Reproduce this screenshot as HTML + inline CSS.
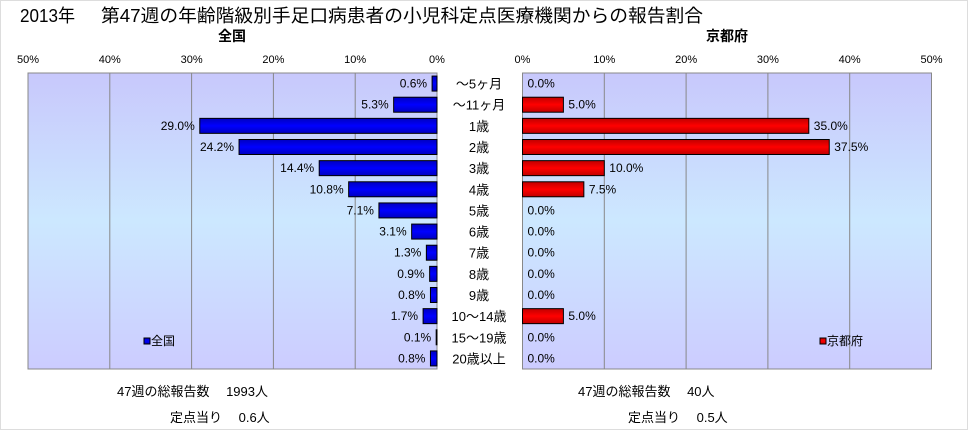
<!DOCTYPE html>
<html><head><meta charset="utf-8">
<style>
body{margin:0;background:#fff;}
svg{display:block;font-family:"Liberation Sans","Noto Sans CJK JP",sans-serif;}
</style></head>
<body>
<svg id="c" width="968" height="430" viewBox="0 0 968 430">
<defs>
<linearGradient id="bg" x1="0" y1="0" x2="0" y2="1">
<stop offset="0" stop-color="#c8c8fc"/><stop offset="0.5" stop-color="#cce8ff"/><stop offset="1" stop-color="#ccccff"/>
</linearGradient>
<linearGradient id="gb" x1="0" y1="0" x2="0" y2="1">
<stop offset="0" stop-color="#0000c0"/><stop offset="0.5" stop-color="#0000ff"/><stop offset="1" stop-color="#0000c0"/>
</linearGradient>
<linearGradient id="gr" x1="0" y1="0" x2="0" y2="1">
<stop offset="0" stop-color="#c00000"/><stop offset="0.5" stop-color="#ff0000"/><stop offset="1" stop-color="#c00000"/>
</linearGradient>
</defs>
<rect x="0.5" y="0.5" width="967" height="429" fill="#fff" stroke="#ddd"/>
<text x="20" y="22" font-size="18" textLength="55" lengthAdjust="spacingAndGlyphs">2013年</text>
<text x="101" y="22" font-size="18" textLength="602" lengthAdjust="spacingAndGlyphs">第47週の年齢階級別手足口病患者の小児科定点医療機関からの報告割合</text>
<text x="232" y="41" font-size="14" font-weight="bold" text-anchor="middle">全国</text>
<text x="727" y="41" font-size="14" font-weight="bold" text-anchor="middle">京都府</text>
<g id="L"></g><g id="R"></g><g id="cats"></g>
<text x="117" y="396" font-size="13">47週の総報告数　 1993人</text>
<text x="170" y="422" font-size="13">定点当り　 0.6人</text>
<text x="578" y="396" font-size="13">47週の総報告数　 40人</text>
<text x="628" y="422" font-size="13">定点当り　 0.5人</text>
</svg>
<script>
const categories=["～5ヶ月","～11ヶ月","1歳","2歳","3歳","4歳","5歳","6歳","7歳","8歳","9歳","10～14歳","15～19歳","20歳以上"];
const nationalValues=[0.6,5.3,29.0,24.2,14.4,10.8,7.1,3.1,1.3,0.9,0.8,1.7,0.1,0.8];
const kyotoValues=[0,5.0,35.0,37.5,10.0,7.5,0,0,0,0,0,5.0,0,0];
const tickLabels=["0%","10%","20%","30%","40%","50%"];
const tickValues=[0,10,20,30,40,50];
const NS="http://www.w3.org/2000/svg";
const top0=73,bot0=369,rowH=(bot0-top0)/categories.length,barH=15;
function mk(g,tag,attrs){const e=document.createElementNS(NS,tag);for(const k in attrs)e.setAttribute(k,attrs[k]);g.appendChild(e);return e;}
function rowY(i){return top0+rowH*(i+0.5);}
function panel(gid,x0,dir,vals,fill,legendName,legendX,side){
  const g=document.getElementById(gid);
  const xs=v=>x0+dir*v*8.18;
  const left=Math.min(xs(0),xs(50)),w=Math.abs(xs(50)-xs(0));
  const bg=mk(g,"rect",{x:left,y:top0,width:w,height:bot0-top0,fill:"url(#bg)",stroke:"#888"});
  
  
  tickValues.forEach((t,i)=>{
    const ln=mk(g,"line",{x1:xs(t),x2:xs(t),y1:top0,y2:bot0,stroke:"#888"});
    
    
    const tx=mk(g,"text",{x:xs(t),y:63,"font-size":11,"text-anchor":"middle"});
    tx.textContent=tickLabels[i];
    
    
  });
  vals.forEach((v,i)=>{
    const y=rowY(i);
    const a=xs(0),b=xs(v);
    if(v>0){
      const r=mk(g,"rect",{x:Math.min(a,b),y:y-barH/2,width:Math.abs(b-a),height:barH,fill:fill,stroke:"#000"});
      
      
    }
    const lx=v>0?b+dir*5:a+dir*5;
    const t=mk(g,"text",{x:lx,y:y+4,"font-size":12,"text-anchor":dir<0?"end":"start"});
    t.textContent=v.toFixed(1)+"%";
    
    
  });
  const lr=mk(g,"rect",{x:legendX,y:338,width:6,height:6,fill:fill,stroke:"#000"});
  
  
  const lt=mk(g,"text",{x:legendX+7,y:345,"font-size":12});
  lt.textContent=legendName;
  
  
}
panel("L",437,-1,nationalValues,"url(#gb)","全国",144,"national");
panel("R",522.5,1,kyotoValues,"url(#gr)","京都府",820,"kyoto");
const cg=document.getElementById("cats");
const cbg=mk(cg,"rect",{x:438,y:72,width:84,height:298,fill:"#fff"});


categories.forEach((c,i)=>{
  const t=mk(cg,"text",{x:479,y:rowY(i)+5,"font-size":13,"text-anchor":"middle"});
  t.textContent=c;
  
  
});
</script>
</body></html>
